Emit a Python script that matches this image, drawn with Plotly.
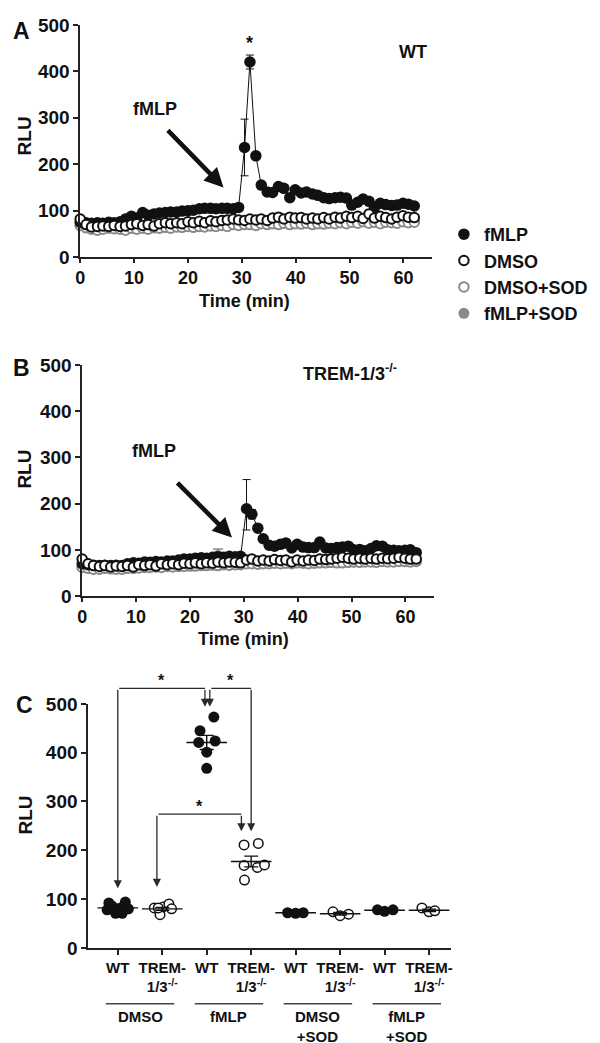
import plotly.graph_objects as go

# ---------------- DATA ----------------
times = [0.0, 1.1, 2.1, 3.2, 4.2, 5.3, 6.3, 7.4, 8.4, 9.5,
         10.5, 11.6, 12.6, 13.7, 14.7, 15.8, 16.8, 17.9, 18.9, 20.0,
         21.0, 22.1, 23.1, 24.2, 25.2, 26.3, 27.3, 28.4, 29.4, 30.5,
         31.5, 32.6, 33.6, 34.7, 35.7, 36.8, 37.8, 38.9, 39.9, 41.0,
         42.0, 43.1, 44.1, 45.2, 46.2, 47.3, 48.3, 49.4, 50.4, 51.5,
         52.5, 53.6, 54.6, 55.7, 56.7, 57.8, 58.8, 59.9, 60.9, 62.0]

# Panel A (WT)
wt_fmlp = [75, 74, 73, 74, 73, 75, 74, 76, 82, 88,
           84, 96, 90, 93, 95, 96, 97, 97, 99, 100,
           101, 104, 105, 105, 104, 105, 105, 104, 107, 236,
           420, 218, 155, 140, 139, 152, 148, 128, 145, 138,
           140, 136, 133, 128, 126, 128, 129, 127, 112, 118,
           125, 120, 107, 116, 113, 111, 112, 116, 114, 110]
wt_fmlp_err_plus = [None] * 29 + [61, 15] + [None] * 29
wt_fmlp_err_minus = [None] * 29 + [61, 15] + [None] * 29
wt_dmso = [82, 70, 65, 66, 67, 66, 68, 66, 67, 70,
           72, 68, 70, 67, 72, 74, 72, 74, 72, 76,
           74, 77, 74, 78, 76, 79, 80, 82, 80, 79,
           82, 80, 82, 79, 84, 86, 82, 86, 84, 85,
           82, 84, 82, 85, 82, 86, 84, 88, 85, 88,
           83, 93, 84, 88, 85, 82, 86, 89, 86, 85]
wt_dmso_sod = [68, 63, 60, 58, 60, 62, 61, 60, 58, 62,
               60, 62, 60, 63, 62, 64, 62, 65, 64, 66,
               64, 66, 65, 67, 66, 68, 66, 70, 68, 70,
               70, 68, 72, 70, 72, 70, 73, 70, 72, 71,
               73, 70, 72, 71, 73, 72, 74, 72, 75, 73,
               76, 73, 75, 72, 75, 74, 73, 76, 74, 75]
wt_fmlp_sod = [68, 64, 62, 60, 62, 63, 62, 62, 60, 63,
               62, 64, 62, 65, 64, 66, 65, 67, 66, 68,
               67, 68, 67, 69, 68, 70, 69, 71, 70, 72,
               71, 70, 73, 72, 73, 72, 74, 72, 73, 73,
               74, 72, 73, 73, 74, 74, 75, 74, 76, 75,
               77, 75, 76, 74, 76, 76, 75, 77, 76, 76]
wt_fmlp_sod_err = [None] * 60

# Panel B (TREM-1/3 -/-)
ko_fmlp = [70, 68, 67, 66, 67, 66, 67, 66, 70, 72,
           71, 74, 73, 75, 74, 76, 76, 78, 80, 80,
           82, 83, 82, 84, 85, 84, 86, 85, 86, 189,
           177, 147, 124, 110, 108, 112, 115, 104, 112, 106,
           105, 105, 117, 104, 103, 105, 106, 108, 100, 101,
           98, 103, 109, 108, 100, 99, 98, 99, 100, 94]
ko_fmlp_err_plus = [None] * 29 + [63, 10] + [None] * 29
ko_fmlp_err_minus = [None] * 29 + [46, 10] + [None] * 29
ko_dmso = [80, 70, 66, 64, 66, 63, 65, 64, 66, 63,
           68, 66, 68, 65, 70, 68, 70, 68, 71, 70,
           72, 70, 72, 71, 74, 72, 74, 73, 72, 78,
           80, 76, 78, 76, 79, 77, 78, 74, 78, 76,
           78, 77, 80, 79, 80, 82, 84, 82, 80, 82,
           80, 82, 80, 82, 81, 82, 84, 82, 80, 80]
ko_dmso_sod = [62, 60, 58, 58, 60, 59, 58, 58, 60, 60,
               61, 62, 62, 63, 62, 64, 63, 64, 64, 65,
               65, 66, 66, 67, 66, 68, 67, 68, 68, 70,
               70, 69, 70, 70, 71, 70, 71, 70, 72, 71,
               70, 71, 72, 72, 73, 72, 72, 73, 74, 73,
               74, 74, 73, 75, 74, 74, 75, 75, 74, 75]
ko_fmlp_sod = [64, 62, 60, 60, 61, 60, 60, 60, 62, 62,
               64, 63, 64, 65, 66, 66, 67, 68, 70, 70,
               72, 72, 73, 74, 88, 74, 74, 75, 75, 75,
               73, 72, 72, 72, 73, 72, 73, 72, 73, 73,
               72, 73, 74, 74, 73, 74, 75, 75, 74, 75,
               76, 75, 76, 76, 75, 76, 77, 76, 77, 76]
ko_fmlp_sod_err = [None] * 24 + [14] + [None] * 35

# Panel C (peak RLU per animal)
c_tick_text = ["WT", "TREM-<br>1/3<sup>-/-</sup>"] * 4
c_group_names = ["DMSO", "fMLP", "DMSO<br>+SOD", "fMLP<br>+SOD"]
c_dmso_wt = [92, 94, 86, 82, 78, 80, 71, 71]
c_dmso_ko = [82, 68, 84, 90, 80, 82]
c_fmlp_wt = [473, 445, 421, 424, 401, 368]
c_fmlp_ko = [211, 214, 169, 165, 170, 139]
c_dmsosod_wt = [72, 71, 72]
c_dmsosod_ko = [74, 66, 69]
c_fmlpsod_wt = [78, 75, 78]
c_fmlpsod_ko = [82, 74, 76]
c_groups = [c_dmso_wt, c_dmso_ko, c_fmlp_wt, c_fmlp_ko,
            c_dmsosod_wt, c_dmsosod_ko, c_fmlpsod_wt, c_fmlpsod_ko]
c_means = [82, 80, 421, 177, 72, 70, 77, 77]
c_sems = [3, 3, 14.5, 11, 0.5, 2.5, 1, 2.5]

# significance brackets (category coords / RLU)
br_left_x = [0.0, 2.07, 0.88]
br_right_x = [1.96, 3.0, 2.78]
br_top = [532, 532, 274]
br_left_tip = [122, 494, 125]
br_right_tip = [494, 239, 239]

# ---------------- LAYOUT / STYLE ----------------
W, H = 600, 1043


def px(x):
    return x / W


def py(y):
    return 1 - y / H


FONT = "Liberation Sans, Arial, Helvetica, sans-serif"
BLACK = "#111111"
GRAY = "#8a8a8a"
AXC = "#222222"
Y_MAX = 500

# x-jitter of dots in panel C (layout only)
c_offsets = [
    [-0.20, 0.17, -0.13, 0.06, -0.24, 0.24, -0.05, 0.10],
    [-0.18, -0.05, 0.02, 0.15, 0.21, -0.09],
    [0.16, -0.15, -0.18, 0.19, 0.0, 0.0],
    [-0.16, 0.16, -0.16, 0.14, 0.30, -0.15],
    [-0.18, 0.0, 0.17],
    [-0.16, 0.0, 0.19],
    [-0.16, 0.0, 0.19],
    [-0.16, 0.0, 0.13],
]

fig = go.Figure()


def add_time_panel(xa, ya, fmlp, ep, em, dmso, dmso_sod, fmlp_sod, sod_err, legend):
    common = dict(xaxis=xa, yaxis=ya, cliponaxis=False, hoverinfo="skip")
    fig.add_trace(go.Scatter(x=times, y=fmlp, mode="lines",
                             line=dict(color=BLACK, width=1),
                             showlegend=False, **common))
    fig.add_trace(go.Scatter(x=times, y=fmlp_sod, mode="markers", name="fMLP+SOD",
                             marker=dict(size=11, color=GRAY),
                             error_y=dict(type="data", array=sod_err, symmetric=False,
                                          arrayminus=[None] * len(sod_err),
                                          color=GRAY, thickness=1.5, width=5),
                             legendrank=4, showlegend=legend, **common))
    fig.add_trace(go.Scatter(x=times, y=dmso_sod, mode="markers", name="DMSO+SOD",
                             marker=dict(size=9.5, color="white",
                                         line=dict(color=GRAY, width=2)),
                             legendrank=3, showlegend=legend, **common))
    fig.add_trace(go.Scatter(x=times, y=fmlp, mode="markers", name="fMLP",
                             marker=dict(size=11.5, color=BLACK),
                             error_y=dict(type="data", array=ep, arrayminus=em,
                                          symmetric=False, color=BLACK,
                                          thickness=1, width=4),
                             legendrank=1, showlegend=legend, **common))
    fig.add_trace(go.Scatter(x=times, y=dmso, mode="markers", name="DMSO",
                             marker=dict(size=9.5, color="white",
                                         line=dict(color=BLACK, width=2)),
                             legendrank=2, showlegend=legend, **common))


add_time_panel("x", "y", wt_fmlp, wt_fmlp_err_plus, wt_fmlp_err_minus,
               wt_dmso, wt_dmso_sod, wt_fmlp_sod, wt_fmlp_sod_err, True)
add_time_panel("x2", "y2", ko_fmlp, ko_fmlp_err_plus, ko_fmlp_err_minus,
               ko_dmso, ko_dmso_sod, ko_fmlp_sod, ko_fmlp_sod_err, False)

# Panel C dots
for i, (vals, offs) in enumerate(zip(c_groups, c_offsets)):
    filled = (i % 2 == 0)
    fig.add_trace(go.Scatter(
        x=[i + o for o in offs], y=vals, mode="markers",
        marker=dict(size=11 if filled else 9.5,
                    color=BLACK if filled else "white",
                    line=dict(color=BLACK, width=0 if filled else 1.5)),
        xaxis="x3", yaxis="y3", showlegend=False, cliponaxis=False, hoverinfo="skip"))

# mean + SEM
fig.add_trace(go.Scatter(
    x=list(range(len(c_means))), y=c_means, mode="markers",
    marker=dict(symbol="line-ew", size=29, color=BLACK,
                line=dict(color=BLACK, width=1.4)),
    error_y=dict(type="data", array=c_sems, color=BLACK, thickness=1.4, width=7),
    xaxis="x3", yaxis="y3", showlegend=False, cliponaxis=False, hoverinfo="skip"))

tickfont = dict(family=FONT, size=19, color=BLACK, weight="bold")
axis_common = dict(showline=True, linecolor=AXC, linewidth=1.5, ticks="outside",
                   ticklen=5, tickwidth=1.5, tickcolor=AXC, showgrid=False,
                   zeroline=False, tickfont=tickfont, fixedrange=True)
xtime_common = {**axis_common, "ticklen": 4,
                "tickfont": dict(family=FONT, size=18, color=BLACK, weight="bold")}

C_RANGE = [-0.667, 7.49]

fig.update_layout(
    width=W, height=H,
    margin=dict(l=0, r=0, t=0, b=0),
    paper_bgcolor="white", plot_bgcolor="white",
    font=dict(family=FONT, color=BLACK),
    xaxis=dict(domain=[px(68), px(424)], range=[0, 65.3], tickvals=[0, 10, 20, 30, 40, 50, 60],
               anchor="y", **xtime_common),
    yaxis=dict(domain=[py(244), py(7)], range=[0, Y_MAX], tickvals=[0, 100, 200, 300, 400, 500],
               anchor="x", **axis_common),
    xaxis2=dict(domain=[px(70), px(426)], range=[0, 65.3], tickvals=[0, 10, 20, 30, 40, 50, 60],
                anchor="y2", **xtime_common),
    yaxis2=dict(domain=[py(590), py(354)], range=[0, Y_MAX], tickvals=[0, 100, 200, 300, 400, 500],
                anchor="x2", **axis_common),
    xaxis3=dict(domain=[px(76), px(443)], range=C_RANGE, tickvals=list(range(8)),
                ticktext=c_tick_text, anchor="y3",
                **{**axis_common, "tickfont": dict(family=FONT, size=15, color=BLACK, weight="bold")}),
    yaxis3=dict(domain=[py(949), py(700)], range=[0, Y_MAX], tickvals=[0, 100, 200, 300, 400, 500],
                anchor="x3", **axis_common),
    legend=dict(x=px(436), y=py(202), xanchor="left", yanchor="top",
                font=dict(family=FONT, size=18, color=BLACK, weight="bold"),
                bgcolor="rgba(0,0,0,0)", itemsizing="trace", tracegroupgap=0),
)

ann = []


def bold(s):
    return dict(family=FONT, size=s, color=BLACK, weight="bold")


# panel letters
for letter, (lx, ly) in zip("ABC", [(9, 13), (9, 357), (12, 701)]):
    ann.append(dict(text=letter, x=px(lx), y=py(ly), xref="paper", yref="paper",
                    xanchor="center", yanchor="middle", showarrow=False, font=bold(23)))

# axis titles
for (tx, ty) in [(12, 120), (12, 460), (13, 813)]:
    ann.append(dict(text="RLU", x=px(tx), y=py(ty), xref="paper", yref="paper",
                    textangle=-90, xanchor="center", yanchor="middle",
                    showarrow=False, font=bold(19)))
for (tx, ty) in [(234, 289), (233, 634)]:
    ann.append(dict(text="Time (min)", x=px(tx), y=py(ty), xref="paper", yref="paper",
                    xanchor="center", yanchor="middle", showarrow=False, font=bold(18)))

# panel A labels
ann.append(dict(text="WT", x=61.8, y=441, xref="x", yref="y", showarrow=False, font=bold(18)))
ann.append(dict(text="*", x=31.4, y=462, xref="x", yref="y", showarrow=False, font=bold(18)))
ann.append(dict(text="fMLP", x=13.8, y=318, xref="x", yref="y", showarrow=False, font=bold(18)))
ann.append(dict(text="", x=26.6, y=150, ax=16.0, ay=276, xref="x", yref="y",
                axref="x", ayref="y", showarrow=True, arrowhead=2, arrowsize=0.85,
                arrowwidth=4.5, arrowcolor=BLACK))
# panel B labels
ann.append(dict(text="TREM-1/3<sup>-/-</sup>", x=49.7, y=483, xref="x2", yref="y2",
                showarrow=False, font=bold(18)))
ann.append(dict(text="fMLP", x=13.3, y=313, xref="x2", yref="y2", showarrow=False, font=bold(18)))
ann.append(dict(text="", x=27.8, y=127, ax=17.4, ay=248, xref="x2", yref="y2",
                axref="x2", ayref="y2", showarrow=True, arrowhead=2, arrowsize=0.85,
                arrowwidth=4.5, arrowcolor=BLACK))

# panel C brackets (y in fraction of the y3 domain so they may rise above 500)
BRC = "#2a2a2a"
YD = "y3 domain"
for xl, xr, top, tl, tr in zip(br_left_x, br_right_x, br_top, br_left_tip, br_right_tip):
    ann.append(dict(text="", x=xr, y=top / Y_MAX, ax=xl, ay=top / Y_MAX, xref="x3", yref=YD,
                    axref="x3", ayref=YD, showarrow=True, arrowhead=0,
                    arrowwidth=1.3, arrowcolor=BRC))
    for xx, tip in [(xl, tl), (xr, tr)]:
        ann.append(dict(text="", x=xx, y=tip / Y_MAX, ax=xx, ay=top / Y_MAX, xref="x3", yref=YD,
                        axref="x3", ayref=YD, showarrow=True, arrowhead=2,
                        arrowsize=1.25, arrowwidth=1.3, arrowcolor=BRC))
    ann.append(dict(text="*", x=(xl + xr) / 2, y=top / Y_MAX, xref="x3", yref=YD,
                    yanchor="bottom", yshift=-3, showarrow=False, font=bold(16)))

# group labels under panel C
shapes = []
span = C_RANGE[1] - C_RANGE[0]
for g, name in enumerate(c_group_names):
    x0 = (2 * g - 0.27 - C_RANGE[0]) / span
    x1 = (2 * g + 1.27 - C_RANGE[0]) / span
    shapes.append(dict(type="line", xref="x3 domain", yref="paper", x0=x0, x1=x1,
                       y0=py(1006), y1=py(1006), line=dict(color="#444444", width=1.5)))
    ann.append(dict(text=name, x=2 * g + 0.5, y=py(1008), xref="x3", yref="paper",
                    xanchor="center", yanchor="top", showarrow=False, font=bold(15)))

fig.update_layout(annotations=ann, shapes=shapes)

fig.write_html("out.html")
